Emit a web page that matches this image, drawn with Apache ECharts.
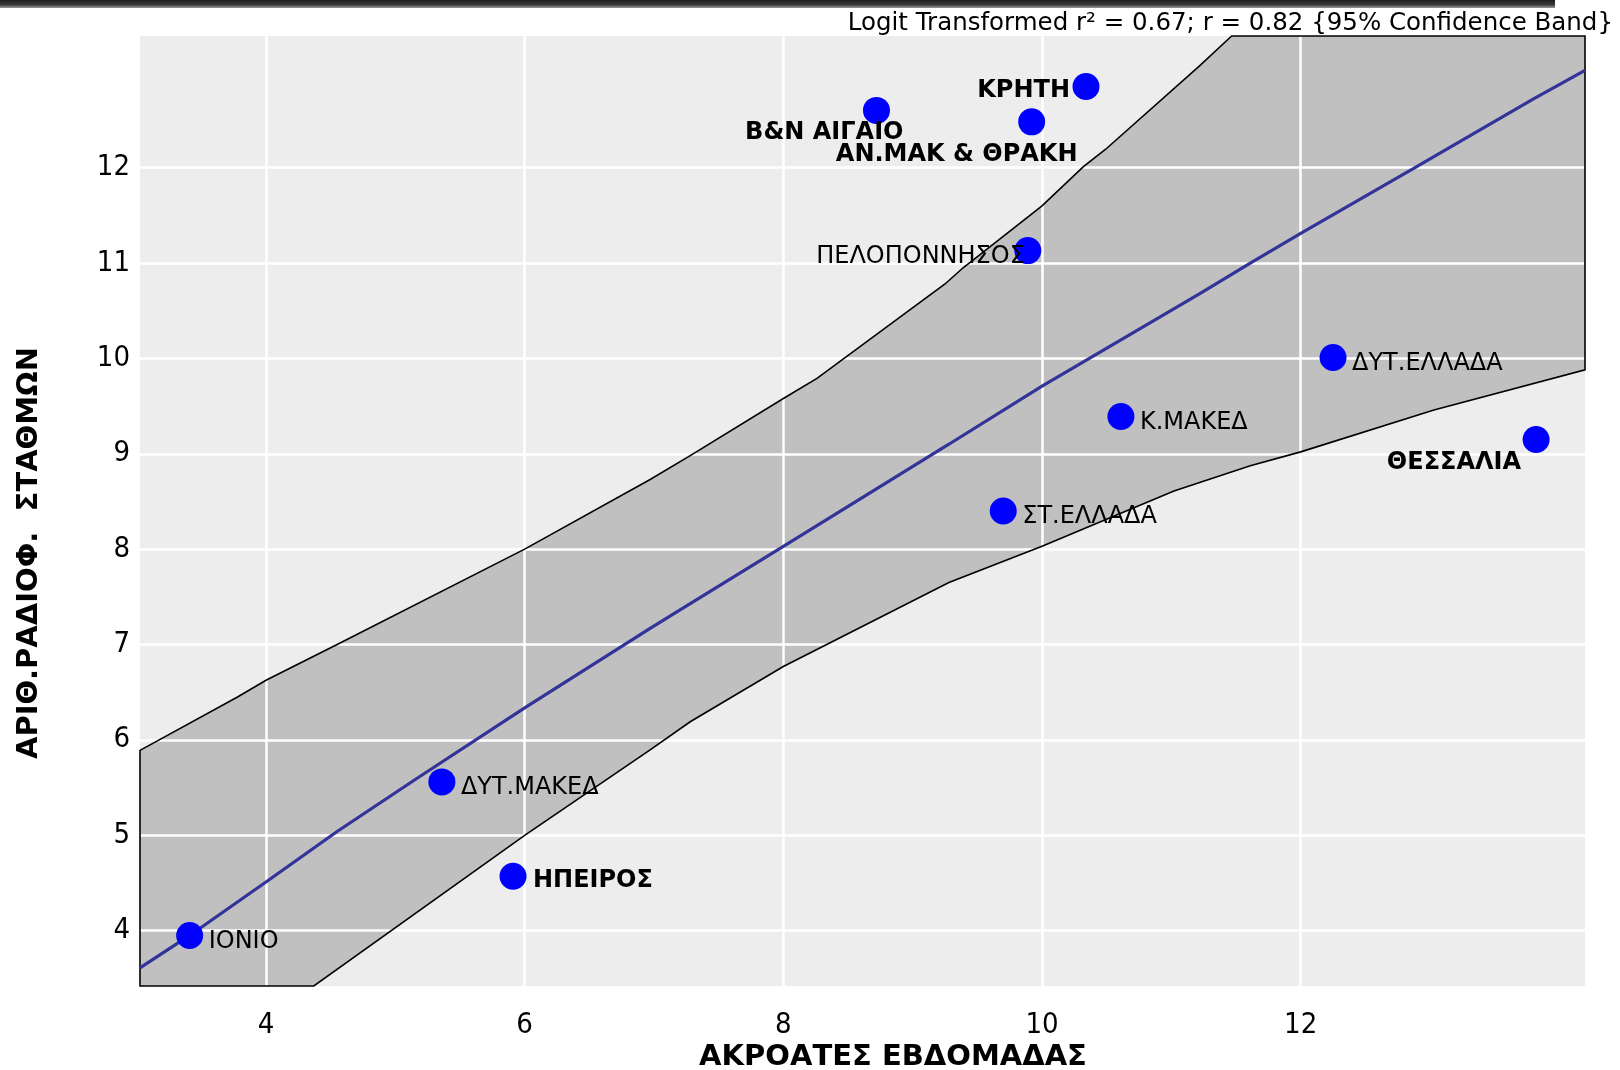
<!DOCTYPE html>
<html><head><meta charset="utf-8">
<script src="https://cdn.jsdelivr.net/npm/echarts@6/dist/echarts.min.js"></script>
<style>html,body{margin:0;padding:0;background:#fff}#c{width:1620px;height:1070px}</style>
</head><body><div id="c"></div>
<script>
// ---- data ----
const regions   = ['ΙΟΝΙΟ','ΔΥΤ.ΜΑΚΕΔ','ΗΠΕΙΡΟΣ','ΣΤ.ΕΛΛΑΔΑ','Κ.ΜΑΚΕΔ','ΔΥΤ.ΕΛΛΑΔΑ','ΘΕΣΣΑΛΙΑ','ΠΕΛΟΠΟΝΝΗΣΟΣ','ΑΝ.ΜΑΚ & ΘΡΑΚΗ','Β&Ν ΑΙΓΑΙΟ','ΚΡΗΤΗ'];
const listeners = [3.41, 5.36, 5.91, 9.70, 10.61, 12.25, 13.82, 9.89, 9.92, 8.72, 10.34];
const stations  = [3.95, 5.56, 4.57, 8.40, 9.39, 10.01, 9.15, 11.13, 12.48, 12.60, 12.85];

const X_MIN = 3.026, X_MAX = 14.198;
const Y_MIN = 3.42,  Y_MAX = 13.38;
const xTickValues = [4, 6, 8, 10, 12];
const yTickValues = [4, 5, 6, 7, 8, 9, 10, 11, 12];

const fitX = [3.026, 3.41, 4.0, 4.55, 5.16, 6.0, 6.97, 7.28, 8.0, 9.28, 10.0, 11.22, 11.61, 12.0, 12.87, 13.8, 14.198];
const fitY = [3.61, 3.95, 4.51, 5.04, 5.59, 6.335, 7.17, 7.43, 8.03, 9.10, 9.71, 10.68, 11.0, 11.31, 11.99, 12.72, 13.02];

const upperX = [X_MIN, 3.78, 4.0, 4.55, 6.0, 6.97, 7.28, 8.0, 8.26, 9.25, 9.39, 10.0, 10.32, 10.49, 11.22, 11.466, X_MAX];
const upperY = [5.89, 6.45, 6.625, 7.0, 8.0, 8.73, 8.98, 9.58, 9.79, 10.78, 10.95, 11.6, 12.01, 12.19, 13.07, Y_MAX, Y_MAX];
const lowerX = [X_MIN, 4.37, 6.0, 6.97, 7.28, 8.0, 9.28, 10.0, 11.02, 11.61, 12.0, 13.03, X_MAX];
const lowerY = [Y_MIN, Y_MIN, 5.0, 5.895, 6.19, 6.77, 7.65, 8.03, 8.61, 8.875, 9.02, 9.46, 9.88];

const titleText = 'Logit Transformed r² = 0.67; r = 0.82 {95% Confidence Band}';
const xTitle = 'ΑΚΡΟΑΤΕΣ ΕΒΔΟΜΑΔΑΣ';
const yTitle = 'ΑΡΙΘ.ΡΑΔΙΟΦ.  ΣΤΑΘΜΩΝ';

// ---- label placement (style, not data) ----
const SYM = 27;
const boldSet = new Set(['ΗΠΕΙΡΟΣ','ΘΕΣΣΑΛΙΑ','ΑΝ.ΜΑΚ & ΘΡΑΚΗ','Β&Ν ΑΙΓΑΙΟ','ΚΡΗΤΗ']);
const labelPlace = {
  'ΠΕΛΟΠΟΝΝΗΣΟΣ': {align:'right', d:[-3, 6]},
  'ΘΕΣΣΑΛΙΑ': {align:'right', d:[-15, 23]},
  'ΚΡΗΤΗ': {align:'right', d:[-16, 4]},
  'Β&Ν ΑΙΓΑΙΟ': {align:'right', d:[27, 22]},
  'ΑΝ.ΜΑΚ & ΘΡΑΚΗ': {align:'center', d:[-75, 33]},
  'ΗΠΕΙΡΟΣ': {align:'left', d:[20, 4]}
};
const FONT = '"DejaVu Sans", Verdana, sans-serif';
const TICKFONT = '"DejaVu Sans Condensed", "DejaVu Sans", sans-serif';

const chart = echarts.init(document.getElementById('c'), null, {renderer:'canvas'});

function bandPoints(api){
  const pts = [];
  for (let i = 0; i < upperX.length; i++) pts.push(api.coord([upperX[i], upperY[i]]));
  for (let i = lowerX.length - 1; i >= 0; i--) pts.push(api.coord([lowerX[i], lowerY[i]]));
  return pts;
}

const scatterData = regions.map((n, i) => {
  const p = labelPlace[n] || {align:'left', d:[19, 6]};
  return {
    name: n,
    value: [listeners[i], stations[i]],
    label: {
      position: [SYM / 2 + p.d[0], SYM / 2 + p.d[1]],
      align: p.align,
      verticalAlign: 'middle',
      fontWeight: boldSet.has(n) ? 'bold' : 'normal'
    }
  };
});

chart.setOption({
  backgroundColor: '#ffffff',
  animation: false,
  grid: {left: 140, right: 35, top: 36, bottom: 84, show: true, backgroundColor: '#ededed', borderWidth: 0},
  xAxis: {
    type: 'value', min: X_MIN, max: X_MAX, z: 3,
    axisLine: {show: false},
    axisTick: {show: false, customValues: xTickValues},
    axisLabel: {customValues: xTickValues, margin: 25, fontSize: 29, color: '#000', fontFamily: TICKFONT},
    splitLine: {show: true, lineStyle: {color: '#ffffff', width: 2.5}}
  },
  yAxis: {
    type: 'value', min: Y_MIN, max: Y_MAX, z: 3,
    axisLine: {show: false},
    axisTick: {show: false, customValues: yTickValues},
    axisLabel: {customValues: yTickValues, margin: 10, fontSize: 29, color: '#000', fontFamily: TICKFONT},
    splitLine: {show: true, lineStyle: {color: '#ffffff', width: 2.5}}
  },
  graphic: [
    {type: 'rect', left: 0, top: 0, z: 10, shape: {width: 1555, height: 8},
     style: {fill: new echarts.graphic.LinearGradient(0, 0, 0, 1, [{offset: 0, color: '#1e1e1e'}, {offset: 0.6, color: '#3a3a3a'}, {offset: 1, color: '#9a9a9a'}])}},
    {type: 'text', right: 7, top: 11, z: 10,
     style: {text: titleText, font: '24.5px ' + FONT, fill: '#000'}},
    {type: 'text', x: 893, y: 1057, z: 10,
     style: {text: xTitle, font: 'bold 29px ' + FONT, fill: '#000', textAlign: 'center', textVerticalAlign: 'middle'}},
    {type: 'text', x: 29, y: 553, rotation: Math.PI / 2, z: 10,
     style: {text: yTitle, font: 'bold 29px ' + FONT, fill: '#000', textAlign: 'center', textVerticalAlign: 'middle'}}
  ],
  series: [
    {
      type: 'custom', z: 1, silent: true, clip: false,
      data: [[upperX[0], upperY[0]]],
      renderItem: function (params, api) {
        return {type: 'polygon', shape: {points: bandPoints(api)}, style: {fill: '#c0c0c0', stroke: null}};
      }
    },
    {
      type: 'custom', z: 4, silent: true, clip: false,
      data: [[upperX[0], upperY[0]]],
      renderItem: function (params, api) {
        return {type: 'polygon', shape: {points: bandPoints(api)}, style: {fill: null, stroke: '#000', lineWidth: 1.6}};
      }
    },
    {
      type: 'line', z: 5, silent: true, showSymbol: false, symbol: 'none',
      data: fitX.map((x, i) => [x, fitY[i]]),
      lineStyle: {color: '#333399', width: 3.2}
    },
    {
      type: 'scatter', z: 6, symbol: 'circle', symbolSize: SYM,
      itemStyle: {color: '#0000ff', opacity: 1},
      label: {show: true, formatter: '{b}', color: '#000', fontSize: 24, fontFamily: FONT},
      labelLayout: {hideOverlap: false},
      data: scatterData
    }
  ]
});
</script></body></html>
